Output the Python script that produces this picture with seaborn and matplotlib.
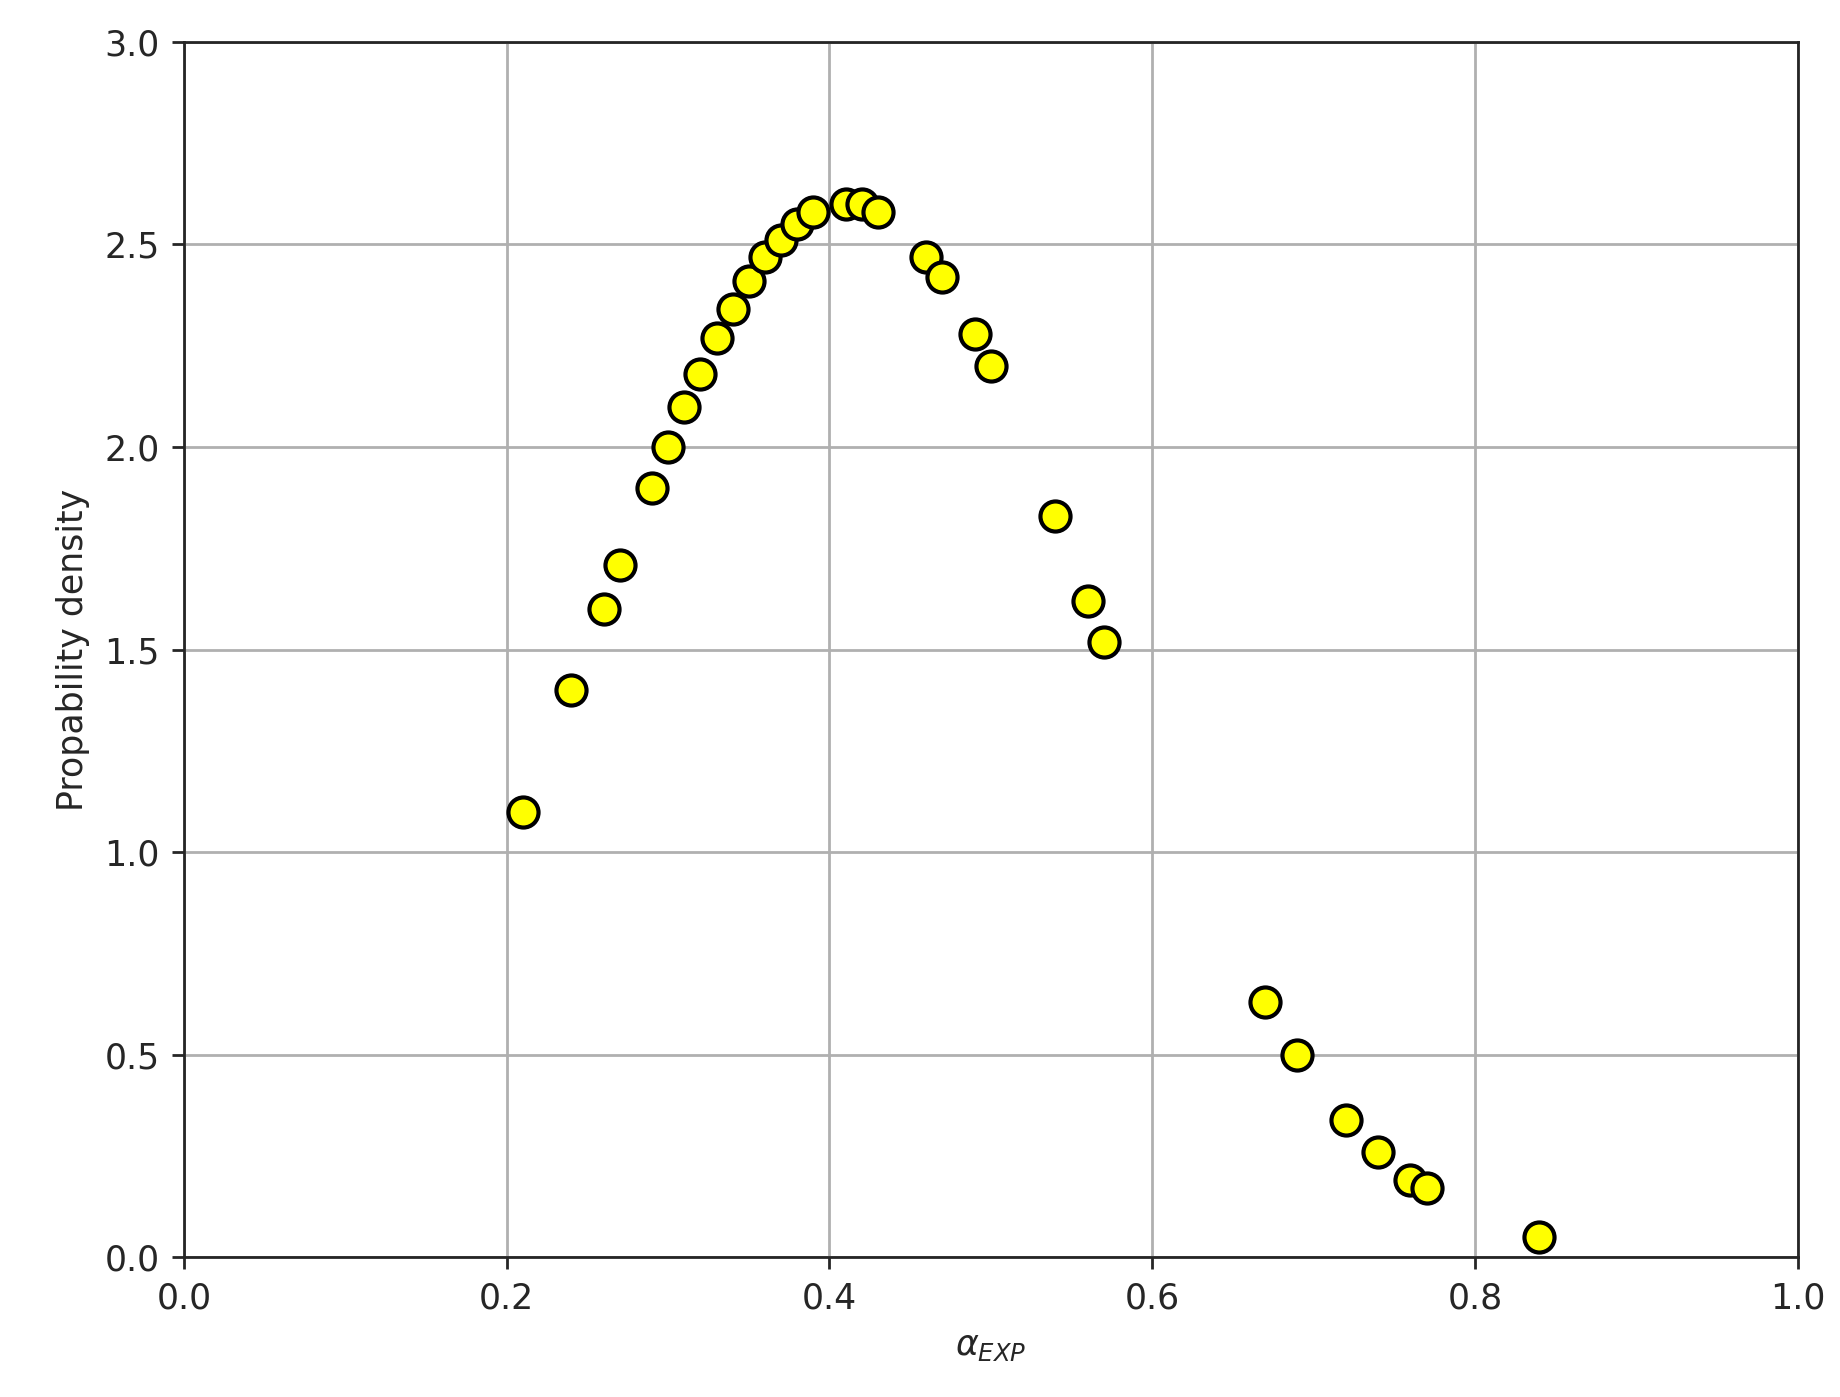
import numpy as np
import matplotlib
matplotlib.use("Agg")
import matplotlib.pyplot as plt
import seaborn as sns

# values
alpha = [0.21, 0.24, 0.26, 0.27, 0.29, 0.30, 0.31, 0.32, 0.33, 0.34, 0.35, 0.36,
         0.37, 0.38, 0.39, 0.41, 0.42, 0.43, 0.46, 0.47, 0.49, 0.50, 0.54, 0.56,
         0.57, 0.67, 0.69, 0.72, 0.74, 0.76, 0.77, 0.84]
density = [1.10, 1.40, 1.60, 1.71, 1.90, 2.00, 2.10, 2.18, 2.27, 2.34, 2.41, 2.47,
           2.51, 2.55, 2.58, 2.60, 2.60, 2.58, 2.47, 2.42, 2.28, 2.20, 1.83, 1.62,
           1.52, 0.63, 0.50, 0.34, 0.26, 0.19, 0.17, 0.05]

sns.set_style("ticks")
plt.rcParams['font.family'] = ['DejaVu Sans']

fig, ax = plt.subplots(figsize=(7.36, 5.588), dpi=250)
sns.scatterplot(x=alpha, y=density, ax=ax, color='yellow', edgecolor='black',
                linewidth=1.2, s=75, zorder=3)
ax.set_xlim(0, 1)
ax.set_ylim(0, 3)
ax.set_xticks(np.arange(0, 1.01, 0.2))
ax.set_yticks(np.arange(0, 3.01, 0.5))
ax.grid(True, color='#b0b0b0', linewidth=0.8)
ax.set_axisbelow(True)
ax.set_xlabel(r'$\alpha_{EXP}$')
ax.set_ylabel('Propability density')
fig.subplots_adjust(left=0.1, right=0.977, top=0.97, bottom=0.1)
fig.savefig('out.png')
